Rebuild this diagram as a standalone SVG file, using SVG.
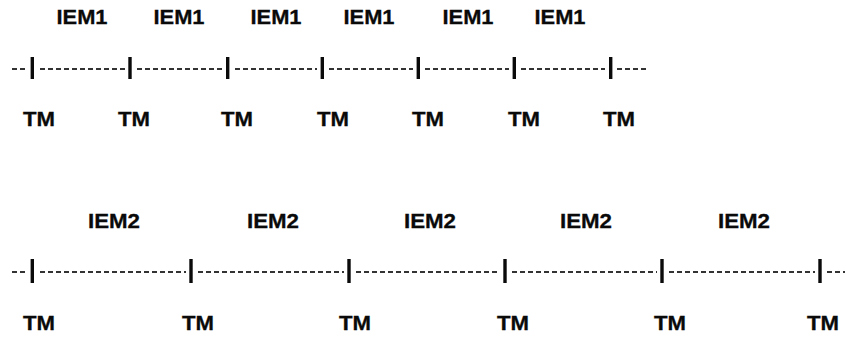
<svg xmlns="http://www.w3.org/2000/svg" width="845" height="338" viewBox="0 0 845 338">
  <style>
    .lbl { font-family: "Liberation Sans", Arial, sans-serif; font-weight: bold; font-size: 20px; fill: #0a0a0a; text-anchor: middle; stroke: #0a0a0a; stroke-width: 0.3; }
    .dash { stroke: #333; stroke-width: 2; stroke-dasharray: 5 3; fill: none; }
    .tick { stroke: #0a0a0a; stroke-width: 3.4; }
  </style>
  <rect width="845" height="338" fill="#fff"/>

  <!-- upper timeline: IEM1 intervals -->
  <g id="timeline-iem1">
    <g id="iem1-line">
      <line class="dash" x1="12" y1="69" x2="26" y2="69"/>
      <line class="dash" x1="40" y1="69" x2="125" y2="69"/>
      <line class="dash" x1="137" y1="69" x2="222" y2="69"/>
      <line class="dash" x1="235" y1="69" x2="317" y2="69"/>
      <line class="dash" x1="329" y1="69" x2="413" y2="69"/>
      <line class="dash" x1="425" y1="69" x2="509" y2="69"/>
      <line class="dash" x1="521" y1="69" x2="605" y2="69"/>
      <line class="dash" x1="617" y1="69" x2="648" y2="69"/>
    </g>
    <g id="iem1-ticks">
      <line class="tick" x1="32.3" y1="57" x2="32.3" y2="79"/>
      <line class="tick" x1="130" y1="57" x2="130" y2="79"/>
      <line class="tick" x1="227.7" y1="57" x2="227.7" y2="79"/>
      <line class="tick" x1="322.3" y1="57" x2="322.3" y2="79"/>
      <line class="tick" x1="418.3" y1="57" x2="418.3" y2="79"/>
      <line class="tick" x1="514.3" y1="57" x2="514.3" y2="79"/>
      <line class="tick" x1="610.7" y1="57" x2="610.7" y2="79"/>
    </g>
    <g id="iem1-labels">
      <text class="lbl" x="82" y="24" textLength="51" lengthAdjust="spacingAndGlyphs">IEM1</text>
      <text class="lbl" x="179" y="24" textLength="51" lengthAdjust="spacingAndGlyphs">IEM1</text>
      <text class="lbl" x="276" y="24" textLength="51" lengthAdjust="spacingAndGlyphs">IEM1</text>
      <text class="lbl" x="369" y="24" textLength="51" lengthAdjust="spacingAndGlyphs">IEM1</text>
      <text class="lbl" x="468" y="24" textLength="51" lengthAdjust="spacingAndGlyphs">IEM1</text>
      <text class="lbl" x="560" y="24" textLength="51" lengthAdjust="spacingAndGlyphs">IEM1</text>
    </g>
    <g id="iem1-tm">
      <text class="lbl" x="39" y="126" textLength="32" lengthAdjust="spacingAndGlyphs">TM</text>
      <text class="lbl" x="134" y="126" textLength="32" lengthAdjust="spacingAndGlyphs">TM</text>
      <text class="lbl" x="237" y="126" textLength="32" lengthAdjust="spacingAndGlyphs">TM</text>
      <text class="lbl" x="333" y="126" textLength="32" lengthAdjust="spacingAndGlyphs">TM</text>
      <text class="lbl" x="428" y="126" textLength="32" lengthAdjust="spacingAndGlyphs">TM</text>
      <text class="lbl" x="524" y="126" textLength="32" lengthAdjust="spacingAndGlyphs">TM</text>
      <text class="lbl" x="619" y="126" textLength="32" lengthAdjust="spacingAndGlyphs">TM</text>
    </g>
  </g>

  <!-- lower timeline: IEM2 intervals -->
  <g id="timeline-iem2">
    <g id="iem2-line">
      <line class="dash" x1="12" y1="272" x2="26" y2="272"/>
      <line class="dash" x1="40" y1="272" x2="186" y2="272"/>
      <line class="dash" x1="198" y1="272" x2="344" y2="272"/>
      <line class="dash" x1="356" y1="272" x2="500" y2="272"/>
      <line class="dash" x1="512" y1="272" x2="657" y2="272"/>
      <line class="dash" x1="669" y1="272" x2="815" y2="272"/>
      <line class="dash" x1="827" y1="272" x2="845" y2="272"/>
    </g>
    <g id="iem2-ticks">
      <line class="tick" x1="32.3" y1="259" x2="32.3" y2="283"/>
      <line class="tick" x1="191" y1="259" x2="191" y2="283"/>
      <line class="tick" x1="349" y1="259" x2="349" y2="283"/>
      <line class="tick" x1="505" y1="259" x2="505" y2="283"/>
      <line class="tick" x1="662" y1="259" x2="662" y2="283"/>
      <line class="tick" x1="820" y1="259" x2="820" y2="283"/>
    </g>
    <g id="iem2-labels">
      <text class="lbl" x="114" y="228" textLength="52" lengthAdjust="spacingAndGlyphs">IEM2</text>
      <text class="lbl" x="273" y="228" textLength="52" lengthAdjust="spacingAndGlyphs">IEM2</text>
      <text class="lbl" x="430" y="228" textLength="52" lengthAdjust="spacingAndGlyphs">IEM2</text>
      <text class="lbl" x="586" y="228" textLength="52" lengthAdjust="spacingAndGlyphs">IEM2</text>
      <text class="lbl" x="744" y="228" textLength="52" lengthAdjust="spacingAndGlyphs">IEM2</text>
    </g>
    <g id="iem2-tm">
      <text class="lbl" x="39" y="330" textLength="32" lengthAdjust="spacingAndGlyphs">TM</text>
      <text class="lbl" x="198" y="330" textLength="32" lengthAdjust="spacingAndGlyphs">TM</text>
      <text class="lbl" x="355" y="330" textLength="32" lengthAdjust="spacingAndGlyphs">TM</text>
      <text class="lbl" x="513" y="330" textLength="32" lengthAdjust="spacingAndGlyphs">TM</text>
      <text class="lbl" x="670" y="330" textLength="32" lengthAdjust="spacingAndGlyphs">TM</text>
      <text class="lbl" x="823" y="330" textLength="32" lengthAdjust="spacingAndGlyphs">TM</text>
    </g>
  </g>
</svg>
